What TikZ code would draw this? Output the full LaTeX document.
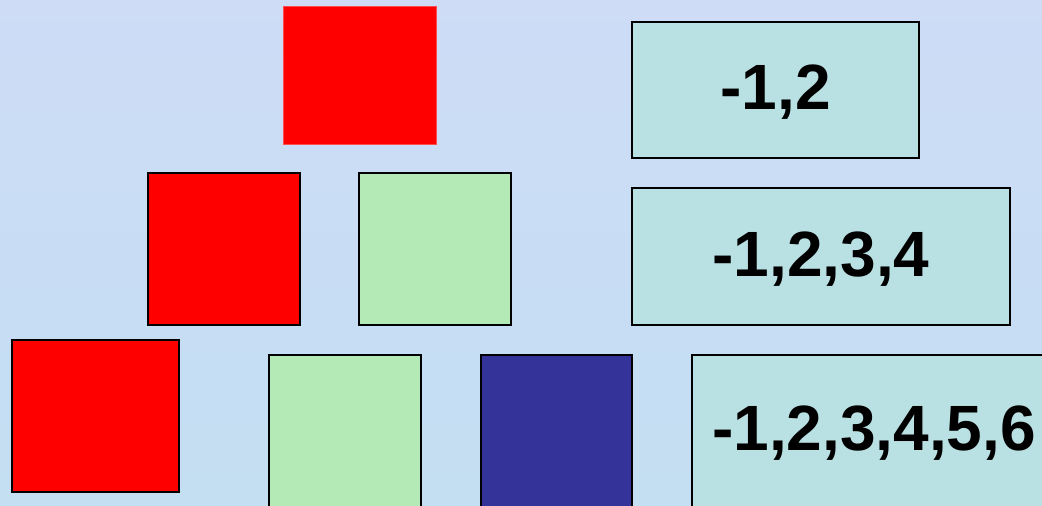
\documentclass[tikz,border=0pt]{standalone}
\usepackage{fontspec}
\setmainfont{Liberation Sans}
\definecolor{bgA}{RGB}{206,220,246}
\definecolor{bgB}{RGB}{196,222,242}
\definecolor{sqred}{RGB}{255,0,0}
\definecolor{sqgreen}{RGB}{180,234,182}
\definecolor{sqblue}{RGB}{51,51,153}
\definecolor{boxfill}{RGB}{185,224,227}
\tikzset{
  sq/.style={draw=black, line width=1.5pt},
  lbl/.style={draw=black, line width=1.5pt, fill=boxfill},
  txt/.style={font=\fontsize{64}{64}\selectfont\bfseries, inner sep=0pt, anchor=center}
}
\begin{document}
\begin{tikzpicture}[x=1pt,y=-1pt]
\useasboundingbox (0,0) rectangle (1042,506);
\shade[top color=bgA, bottom color=bgB, middle color=bgB!60!bgA] (0,0) rectangle (1042,506);
% squares
\fill[sqred, draw=sqred!70!white, line width=1pt] (283,6) rectangle (436,144) coordinate (topred);
\draw[sq, fill=sqred] (148,173) rectangle (300,325) coordinate (r2red);
\draw[sq, fill=sqgreen] (359,173) rectangle (511,325) coordinate (r2green);
\draw[sq, fill=sqred] (12,340) rectangle (179,492) coordinate (r3red);
\draw[sq, fill=sqgreen] (269,355) rectangle (421,510) coordinate (r3green);
\draw[sq, fill=sqblue] (481,355) rectangle (632,510) coordinate (r3blue);
% label boxes
\draw[lbl] (632,22) rectangle (919,158) coordinate (b1);
\draw[lbl] (632,188) rectangle (1010,325) coordinate (b2);
\draw[lbl] (692,355) rectangle (1050,510) coordinate (b3);
\node[txt] (t1) at (775.5,92) {-1,2};
\node[txt] (t2) at (821,259) {-1,2,3,4};
\node[txt] (t3) at (874,433) {-1,2,3,4,5,6};
\end{tikzpicture}
\end{document}
